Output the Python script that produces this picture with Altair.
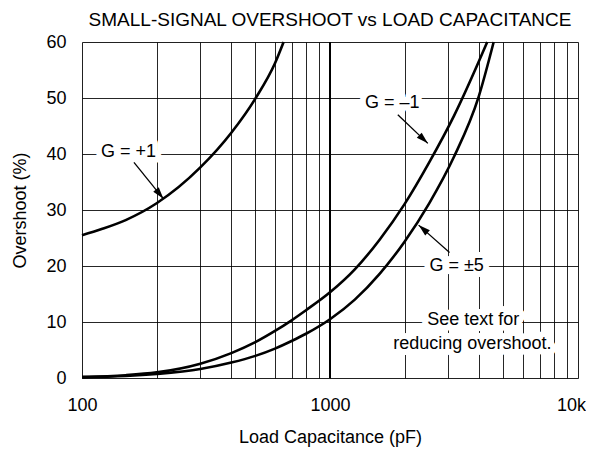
import altair as alt
import pandas as pd

# ---- data ----
cap_p1 = [100, 120, 150, 200, 300, 400, 500, 600, 650]
os_p1 = [25.5, 26.6, 28.2, 31.2, 37.6, 43.8, 49.9, 56.2, 60.0]

cap_m1 = [100, 150, 200, 300, 400, 500, 600, 700, 800, 1000, 1259, 1585, 1995, 2512, 3162, 3981, 4305]
os_m1 = [0.2, 0.5, 1.0, 2.55, 4.45, 6.4, 8.4, 10.3, 12.1, 15.3, 19.4, 24.7, 31.0, 38.5, 46.8, 56.5, 60.0]

cap_p5 = [100, 150, 200, 300, 400, 500, 600, 700, 800, 1000, 1259, 1585, 1995, 2512, 3162, 3981, 4571]
os_p5 = [0.1, 0.35, 0.72, 1.6, 2.75, 3.95, 5.25, 6.6, 7.9, 10.5, 14.0, 18.6, 24.3, 31.2, 39.5, 50.3, 60.0]

label_text = ["G = +1", "G = \u20131", "G = \u00b15", "See text for", "reducing overshoot."]
label_x = [154, 1784, 3239, 3780, 3750]
label_y = [40.3, 49.1, 20.0, 10.3, 6.0]

arrow_x = [162, 1877, 3034]
arrow_y = [38.5, 47.0, 22.4]
arrow_tip_x = [213, 2480, 2277]
arrow_tip_y = [32.0, 41.9, 27.3]
arrow_angle = [141, 133.5, 311]

x_grid = [100, 200, 300, 400, 500, 600, 700, 800, 900,
          1000, 2000, 3000, 4000, 5000, 6000, 7000, 8000, 9000, 10000]
y_grid = [0, 10, 20, 30, 40, 50, 60]
major_x = [1000]

FONT = "Liberation Sans"

# ---- tables ----
curves = pd.concat([
    pd.DataFrame({"x": cap_p1, "y": os_p1, "g": "G=+1"}),
    pd.DataFrame({"x": cap_m1, "y": os_m1, "g": "G=-1"}),
    pd.DataFrame({"x": cap_p5, "y": os_p5, "g": "G=5"}),
])
labels = pd.DataFrame({"x": label_x, "y": label_y, "t": label_text})
arrows = pd.DataFrame({"x": arrow_x, "y": arrow_y, "x2": arrow_tip_x,
                       "y2": arrow_tip_y, "a": arrow_angle})
majors = pd.DataFrame({"x": major_x})

xscale = alt.Scale(type="log", domain=[100, 10000], nice=False)
yscale = alt.Scale(domain=[0, 60], nice=False, zero=False)

xaxis = alt.Axis(
    values=x_grid, grid=True, ticks=False, domain=False,
    labelExpr="datum.value == 100 ? '100' : datum.value == 1000 ? '1000' : datum.value == 10000 ? '10k' : ''",
    labelOverlap=False, labelFlush=False, labelBound=False,
    labelOffset={"condition": {"test": "datum.value == 10000", "value": -7}, "value": 0},
    labelFontSize=18, labelFont=FONT, labelColor="black", labelPadding=18,
    title="Load Capacitance (pF)", titleFontSize=18, titleFont=FONT,
    titleFontWeight="normal", titleColor="black", titlePadding=14,
    gridColor="black", gridWidth=1, gridOpacity=0.85,
)
yaxis = alt.Axis(
    values=y_grid, grid=True, ticks=False, domain=False,
    labelFontSize=18, labelFont=FONT, labelColor="black", labelPadding=16,
    title="Overshoot (%)", titleFontSize=18, titleFont=FONT,
    titleFontWeight="normal", titleColor="black", titlePadding=16,
    gridColor="black", gridWidth=1, gridOpacity=0.85,
)

X = lambda f="x": alt.X(f"{f}:Q", scale=xscale, axis=xaxis)
Y = lambda f="y": alt.Y(f"{f}:Q", scale=yscale, axis=yaxis)

major_rule = alt.Chart(majors).mark_rule(color="black", strokeWidth=2).encode(x=X())

lines = alt.Chart(curves).mark_line(
    color="black", strokeWidth=2.6, interpolate="monotone"
).encode(x=X(), y=Y(), detail="g:N")

arrow_lines = alt.Chart(arrows).mark_rule(color="black", strokeWidth=1.3).encode(
    x=X(), y=Y(), x2="x2:Q", y2="y2:Q")

arrow_heads = alt.Chart(arrows).mark_point(
    shape="M0,0L-0.3,1L0.3,1Z", filled=True, color="black", opacity=1, size=560
).encode(x=X("x2"), y=Y("y2"), angle=alt.Angle("a:Q", scale=None))

halo = alt.Chart(labels).mark_text(
    font=FONT, fontSize=18, color="white", stroke="white", strokeWidth=12,
    strokeJoin="round", align="center", baseline="middle"
).encode(x=X(), y=Y(), text="t:N")

text = alt.Chart(labels).mark_text(
    font=FONT, fontSize=18, color="black", align="center", baseline="middle"
).encode(x=X(), y=Y(), text="t:N")

chart = alt.layer(major_rule, lines, arrow_lines, halo, text, arrow_heads).properties(
    width=496, height=336,
    autosize=alt.AutoSizeParams(type="none"),
    padding={"left": 74, "top": 34, "right": 8, "bottom": 70},
    title=alt.Title("SMALL-SIGNAL OVERSHOOT vs LOAD CAPACITANCE", font=FONT,
                    fontSize=19, fontWeight="normal", color="black",
                    anchor="middle", offset=3),
).configure_view(stroke="black", strokeWidth=2.5).configure(background="white")

chart.save("out.html", embed_options={"renderer": "svg", "actions": False})
